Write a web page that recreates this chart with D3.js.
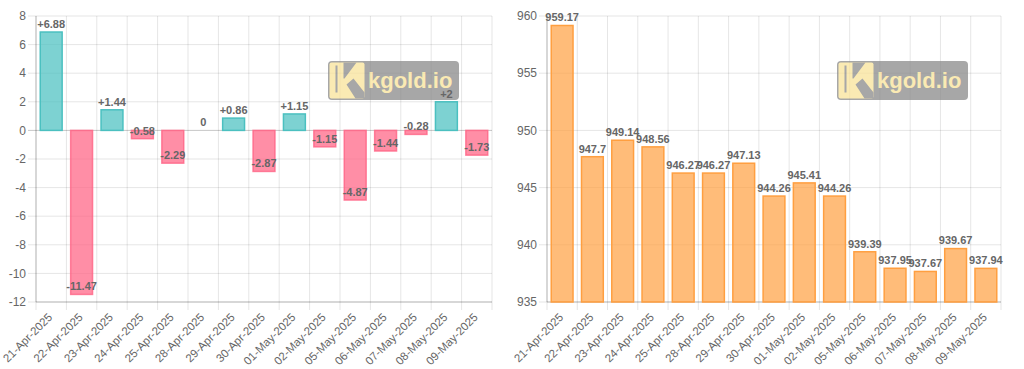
<!DOCTYPE html>
<html>
<head>
<meta charset="utf-8">
<script src="https://cdn.jsdelivr.net/npm/d3@7"></script>
<style>
  body { margin: 0; background: #fff; }
  svg { display: block; font-family: 'Liberation Sans', Arial, sans-serif; }
</style>
</head>
<body>
<svg id="chart" width="1024" height="369"></svg>
<script>
/* global d3 */

const dates = [
  '21-Apr-2025', '22-Apr-2025', '23-Apr-2025', '24-Apr-2025', '25-Apr-2025',
  '28-Apr-2025', '29-Apr-2025', '30-Apr-2025', '01-May-2025', '02-May-2025',
  '05-May-2025', '06-May-2025', '07-May-2025', '08-May-2025', '09-May-2025',
];
const changes = [6.88, -11.47, 1.44, -0.58, -2.29, 0, 0.86, -2.87, 1.15, -1.15, -4.87, -1.44, -0.28, 2, -1.73];
const prices = [959.17, 947.7, 949.14, 948.56, 946.27, 946.27, 947.13, 944.26, 945.41, 944.26,
  939.39, 937.95, 937.67, 939.67, 937.94];
const changeTicks = [8, 6, 4, 2, 0, -2, -4, -6, -8, -10, -12];
const priceTicks = [960, 955, 950, 945, 940, 935];

const svg = d3.select('#chart');
svg.append('rect').attr('width', 1024).attr('height', 369).attr('fill', '#fff');

const gridColor = 'rgba(0,0,0,0.1)';
const axisColor = 'rgba(0,0,0,0.22)';

// kgold.io watermark, semi transparent
const drawWatermark = function drawWatermark(g, x, y) {
  const w = g.append('g')
    .attr('transform', `translate(${x},${y})`)
    .attr('opacity', 0.75);
  w.append('rect')
    .attr('width', 131).attr('height', 39).attr('rx', 4)
    .attr('fill', '#8a8a8a');
  const logo = w.append('g').attr('transform', 'translate(1.5,1.5)');
  logo.append('rect')
    .attr('width', 35).attr('height', 36).attr('rx', 2)
    .attr('fill', '#f9e39a');
  // gray cut-outs forming the K
  logo.append('path')
    .attr('d', 'M6,3 L8,3 L8,30 L6,30 Z M14,0 L27,0 L15,16 L14,16 Z M17,22 L24,16 L35,30 L35,36 L26,36 Z')
    .attr('fill', '#8a8a8a');
  w.append('text')
    .attr('x', 40).attr('y', 27)
    .attr('font-size', 22).attr('font-weight', 'bold')
    .attr('fill', '#f9e39a')
    .text('kgold.io');
};

const drawChart = function drawChart(opts) {
  const g = svg.append('g');
  const x = d3.scaleBand()
    .domain(dates)
    .range([opts.left, opts.right]);
  const y = d3.scaleLinear()
    .domain(opts.domain)
    .range([opts.bottom, opts.top]);
  const bw = x.bandwidth() * 0.72;

  // horizontal grid + tick stubs
  g.append('g').selectAll('line')
    .data(opts.ticks)
    .enter().append('line')
    .attr('x1', opts.left - 8).attr('x2', opts.right)
    .attr('y1', d => y(d)).attr('y2', d => y(d))
    .attr('stroke', d => (d === 0 ? axisColor : gridColor))
    .attr('stroke-width', 1);

  // vertical grid at category boundaries
  const bounds = dates.map(d => x(d)).concat([opts.right]);
  g.append('g').selectAll('line')
    .data(bounds)
    .enter().append('line')
    .attr('x1', d => d).attr('x2', d => d)
    .attr('y1', opts.top).attr('y2', opts.bottom + 8)
    .attr('stroke', gridColor)
    .attr('stroke-width', 1);

  // axis lines
  g.append('line')
    .attr('x1', opts.left).attr('x2', opts.left)
    .attr('y1', opts.top).attr('y2', opts.bottom)
    .attr('stroke', axisColor);
  g.append('line')
    .attr('x1', opts.left).attr('x2', opts.right)
    .attr('y1', opts.bottom).attr('y2', opts.bottom)
    .attr('stroke', axisColor);

  // y tick labels
  g.append('g').selectAll('text')
    .data(opts.ticks)
    .enter().append('text')
    .attr('x', opts.left - 10)
    .attr('y', d => y(d))
    .attr('dy', '0.35em')
    .attr('text-anchor', 'end')
    .attr('font-size', 12)
    .attr('fill', '#666')
    .text(d => d);

  // x tick labels
  g.append('g').selectAll('text')
    .data(dates)
    .enter().append('text')
    .attr('transform', d => `translate(${x(d) + x.bandwidth() / 2 - 1},${opts.bottom + 13}) rotate(-45)`)
    .attr('dy', '0.35em')
    .attr('text-anchor', 'end')
    .attr('font-size', 11.5)
    .attr('fill', '#666')
    .text(d => d);

  drawWatermark(g, opts.right - 164, 61);

  const base = opts.domain[0] < 0 ? 0 : opts.domain[0];
  const rows = dates.map((d, i) => ({ date: d, value: opts.values[i] }));

  g.append('g').selectAll('rect')
    .data(rows.filter(r => r.value !== 0))
    .enter().append('rect')
    .attr('x', r => x(r.date) + (x.bandwidth() - bw) / 2)
    .attr('width', bw)
    .attr('y', r => Math.min(y(r.value), y(base)))
    .attr('height', r => Math.abs(y(r.value) - y(base)))
    .attr('fill', r => opts.fill(r.value))
    .attr('stroke', r => opts.stroke(r.value))
    .attr('stroke-width', 1.5);

  g.append('g').selectAll('text')
    .data(rows)
    .enter().append('text')
    .attr('x', r => x(r.date) + x.bandwidth() / 2)
    .attr('y', r => y(r.value) - 8)
    .attr('dy', '0.35em')
    .attr('text-anchor', 'middle')
    .attr('font-size', 11)
    .attr('font-weight', 'bold')
    .attr('fill', '#666')
    .text(r => opts.format(r.value));
};

drawChart({
  left: 36,
  right: 492,
  top: 16,
  bottom: 302,
  domain: [-12, 8],
  ticks: changeTicks,
  values: changes,
  fill: v => (v >= 0 ? 'rgba(75,192,192,0.72)' : 'rgba(255,99,132,0.72)'),
  stroke: v => (v >= 0 ? 'rgb(75,192,192)' : 'rgba(255,99,132,0.8)'),
  format: v => (v > 0 ? `+${v}` : `${v}`),
});

drawChart({
  left: 547,
  right: 1001,
  top: 16,
  bottom: 302,
  domain: [935, 960],
  ticks: priceTicks,
  values: prices,
  fill: () => 'rgba(255,159,64,0.7)',
  stroke: () => 'rgb(255,159,64)',
  format: v => `${v}`,
});
</script>
</body>
</html>
